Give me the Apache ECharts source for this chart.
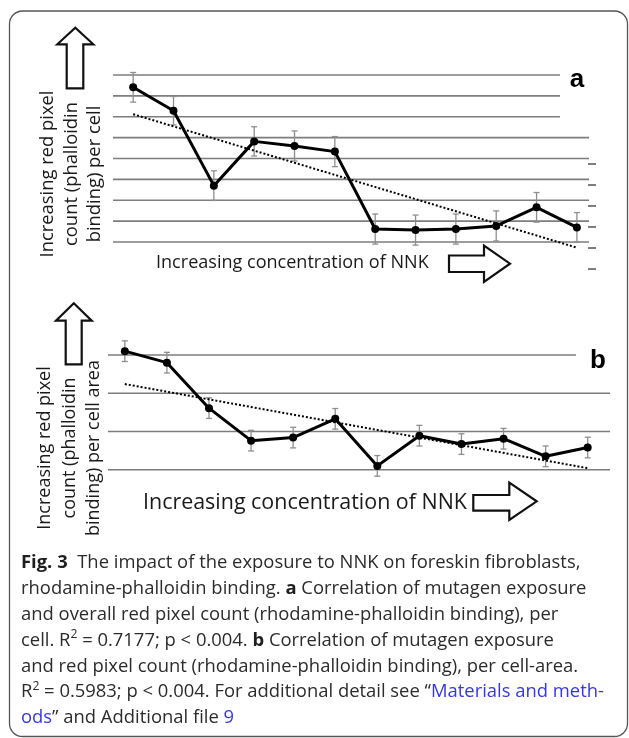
<!DOCTYPE html>
<html>
<head>
<meta charset="utf-8">
<script src="https://cdn.jsdelivr.net/npm/echarts/dist/echarts.min.js"></script>
<style>
html,body{margin:0;padding:0;background:#fff;}
#chart{position:absolute;left:0;top:0;width:629px;height:738px;}
#cap{position:absolute;left:21px;top:548px;font-family:'Open Sans';color:#2b2b2b;white-space:nowrap;font-size:18px;}
#cap .ln{line-height:25.9px;height:25.9px;}
#cap b{font-weight:700;color:#1e1e1e;}
#cap .bl{color:#3636ee;}
#cap .sup{font-size:0.66em;position:relative;top:-0.6em;}
</style>
</head>
<body>
<div id="chart"></div>
<div id="cap">
<div class="ln"><span><b>Fig. 3</b>&nbsp; The impact of the exposure to NNK on foreskin fibroblasts,<i id="bm" style="display:inline-block;width:0;height:0;vertical-align:baseline"></i></span></div>
<div class="ln"><span>rhodamine-phalloidin binding. <b>a</b> Correlation of mutagen exposure</span></div>
<div class="ln"><span>and overall red pixel count (rhodamine-phalloidin binding), per</span></div>
<div class="ln"><span>cell. R<span class="sup">2</span> = 0.7177; p &lt; 0.004. <b>b</b> Correlation of mutagen exposure</span></div>
<div class="ln"><span id="l5">and red pixel count (rhodamine-phalloidin binding), per cell-area.</span></div>
<div class="ln"><span id="l6">R<span class="sup">2</span> = 0.5983; p &lt; 0.004. For additional detail see “<span class="bl">Materials and meth-</span></span></div>
<div class="ln"><span><span class="bl">ods</span>” and Additional file <span class="bl">9</span></span></div>
</div>
<script>
// ---- data (arbitrary units, gridline spacing = 1) ----
const categories = [1, 2, 3, 4, 5, 6, 7, 8, 9, 10, 11, 12]; // NNK concentration steps
const valuesA = [7.41, 6.29, 2.70, 4.82, 4.60, 4.33, 0.62, 0.57, 0.62, 0.77, 1.66, 0.70];
const errorsA = [0.71, 0.68, 0.71, 0.70, 0.72, 0.72, 0.72, 0.72, 0.72, 0.72, 0.71, 0.71];
const trendA = [6.12, -0.27];      // dotted regression line at first and last category
const valuesB = [3.10, 2.80, 1.61, 0.76, 0.84, 1.33, 0.10, 0.89, 0.67, 0.81, 0.35, 0.58];
const errorsB = [0.27, 0.27, 0.27, 0.27, 0.27, 0.27, 0.27, 0.27, 0.27, 0.27, 0.27, 0.27];
const trendB = [2.24, 0.04];
const gridTicksA = [0, 1, 2, 3, 4, 5, 6, 7, 8];
const gridTicksB = [0, 1, 2, 3];

const xLabel = 'Increasing concentration of NNK';
const yTitleA = ['Increasing red pixel', 'count (phalloidin', 'binding) per cell'];
const yTitleB = ['Increasing red pixel', 'count (phalloidin', 'binding) per cell area'];

// ---- font fitting helper ----
const cv = document.createElement('canvas').getContext('2d');
function fit(text, family, weight, target) {
  cv.font = weight + ' 100px ' + family;
  return 100 * target / cv.measureText(text).width;
}
const FAM = 'Open Sans';
const fsXA = fit(xLabel, '"Open Sans"', 'normal', 273);
const fsXB = fit(xLabel, '"Open Sans"', 'normal', 324);
const fsYA = fit(yTitleA[0], '"Open Sans"', 'normal', 167);
const fsYB = fit(yTitleB[2], '"Open Sans"', 'normal', 176);

const chart = echarts.init(document.getElementById('chart'), null, {renderer: 'canvas'});

function gridSeries(ticks, xi, x0, shortFrom, xShort, xLong) {
  return {
    type: 'custom', xAxisIndex: xi, yAxisIndex: xi, z: 1, silent: true,
    data: ticks.map(v => [x0, v]),
    encode: {x: 0, y: 1},
    renderItem: (params, api) => {
      const v = api.value(1);
      const p0 = api.coord([api.value(0), v]);
      const p1 = api.coord([v >= shortFrom ? xShort : xLong, v]);
      return {type: 'line', shape: {x1: p0[0], y1: p0[1], x2: p1[0], y2: p1[1]},
              style: {stroke: '#7d7d7d', lineWidth: 1.6}};
    }
  };
}
function errSeries(vals, errs, xi) {
  return {
    type: 'custom', xAxisIndex: xi, yAxisIndex: xi, z: 2, silent: true,
    data: categories.map((c, i) => [c, vals[i] - errs[i], vals[i] + errs[i]]),
    encode: {x: 0, y: [1, 2]},
    renderItem: (params, api) => {
      const x = api.value(0);
      const a = api.coord([x, api.value(1)]);
      const b = api.coord([x, api.value(2)]);
      const st = {stroke: '#8e8e8e', lineWidth: 1.3};
      return {type: 'group', children: [
        {type: 'line', shape: {x1: a[0], y1: a[1], x2: b[0], y2: b[1]}, style: st},
        {type: 'line', shape: {x1: a[0] - 3, y1: a[1], x2: a[0] + 3, y2: a[1]}, style: st},
        {type: 'line', shape: {x1: b[0] - 3, y1: b[1], x2: b[0] + 3, y2: b[1]}, style: st}
      ]};
    }
  };
}
function trendSeries(tr, xi) {
  return {
    type: 'line', xAxisIndex: xi, yAxisIndex: xi, z: 3, clip: false, silent: true,
    data: [[categories[0], tr[0]], [categories[categories.length - 1], tr[1]]],
    symbol: 'none', lineStyle: {color: '#000', width: 2, type: 'dotted'}
  };
}
function dataSeries(vals, xi) {
  return {
    type: 'line', xAxisIndex: xi, yAxisIndex: xi, z: 4, clip: false, silent: true,
    data: categories.map((c, i) => [c, vals[i]]),
    symbol: 'circle', symbolSize: 8,
    itemStyle: {color: '#000'}, lineStyle: {color: '#000', width: 3}
  };
}

const upA = [[66.7, 88.3], [66.7, 44.3], [57.3, 44.3], [75.3, 27.7], [93.3, 44.3], [83.3, 44.3], [83.3, 88.3]];
const upB = [[65.7, 364.3], [65.7, 320.7], [56, 320.7], [73.8, 303.3], [91.7, 320.7], [81.7, 320.7], [81.7, 364.3]];
const rtA = [[449, 255.5], [484, 255.5], [484, 245.5], [510, 263.7], [484, 282], [484, 272], [449, 272]];
const rtB = [[473.3, 495], [509.3, 495], [509.3, 482.7], [536.7, 501.3], [509.3, 520], [509.3, 510.7], [473.3, 510.7]];
const arrowStyle = {fill: '#fff', stroke: '#111', lineWidth: 2.2};
const txt = (x, y, text, fs, extra) => Object.assign({
  type: 'text', x: x, y: y, silent: true,
  style: Object.assign({text: text, fontFamily: FAM, fontSize: fs, fill: '#1a1a1a',
    textAlign: 'left', textVerticalAlign: 'middle'}, extra || {})
});

chart.setOption({
  animation: false,
  backgroundColor: '#fff',
  grid: [
    {left: 113, top: 75, width: 476, height: 167},
    {left: 108, top: 355, width: 502, height: 114.7},
    {left: 588, top: 163.7, width: 1, height: 104.6}
  ],
  xAxis: [
    {type: 'value', gridIndex: 0, min: 0.5, max: 12.3, show: false},
    {type: 'value', gridIndex: 1, min: 0.6, max: 12.53, show: false},
    {type: 'value', gridIndex: 2, min: 0, max: 1, show: false}
  ],
  yAxis: [
    {type: 'value', gridIndex: 0, min: 0, max: 8, interval: 1, show: false},
    {type: 'value', gridIndex: 1, min: 0, max: 3, interval: 1, show: false},
    {type: 'value', gridIndex: 2, min: 0, max: 5, interval: 1, position: 'right',
     axisLine: {show: false}, axisLabel: {show: false}, splitLine: {show: false},
     axisTick: {show: true, inside: false, length: 8, lineStyle: {color: '#555', width: 1.5}}}
  ],
  series: [
    gridSeries(gridTicksA, 0, 0.5, 6, 11.58, 12.3),
    errSeries(valuesA, errorsA, 0),
    trendSeries(trendA, 0),
    dataSeries(valuesA, 0),
    gridSeries(gridTicksB, 1, 0.6, 3, 11.72, 12.53),
    errSeries(valuesB, errorsB, 1),
    trendSeries(trendB, 1),
    dataSeries(valuesB, 1),
    {type: 'line', xAxisIndex: 2, yAxisIndex: 2, data: [], silent: true}
  ],
  graphic: [
    {type: 'rect', silent: true, shape: {x: 9.5, y: 11, width: 618, height: 725.5, r: 13},
     style: {fill: 'none', stroke: '#555', lineWidth: 1.3}},
    {type: 'polygon', silent: true, shape: {points: upA}, style: arrowStyle},
    {type: 'polygon', silent: true, shape: {points: upB}, style: arrowStyle},
    {type: 'polygon', silent: true, shape: {points: rtA}, style: arrowStyle},
    {type: 'polygon', silent: true, shape: {points: rtB}, style: arrowStyle},
    txt(156, 263, xLabel, fsXA),
    txt(143, 502.5, xLabel, fsXB),
    Object.assign(txt(71.5, 174, yTitleA.join('\n'), fsYA, {textAlign: 'center', lineHeight: 23.5}), {rotation: Math.PI / 2}),
    Object.assign(txt(69.5, 448, yTitleB.join('\n'), fsYB, {textAlign: 'center', lineHeight: 24.5}), {rotation: Math.PI / 2}),
    txt(577, 80.2, 'a', 26, {fontFamily: 'Liberation Sans', fontWeight: 'bold', textAlign: 'center', fill: '#000'}),
    txt(598, 361, 'b', 26, {fontFamily: 'Liberation Sans', fontWeight: 'bold', textAlign: 'center', fill: '#000'})
  ]
});

// ---- caption sizing: fit line widths, then put first baseline at y=568 ----
(function () {
  const cap = document.getElementById('cap');
  const w5 = document.getElementById('l5').getBoundingClientRect().width;
  const w6 = document.getElementById('l6').getBoundingClientRect().width;
  const fs = 18 * ((559 / w5) + (582 / w6)) / 2;
  cap.style.fontSize = fs.toFixed(2) + 'px';
  const bm = document.getElementById('bm').getBoundingClientRect().top;
  cap.style.top = (548 + (568 - bm)).toFixed(2) + 'px';
})();
</script>
</body>
</html>
